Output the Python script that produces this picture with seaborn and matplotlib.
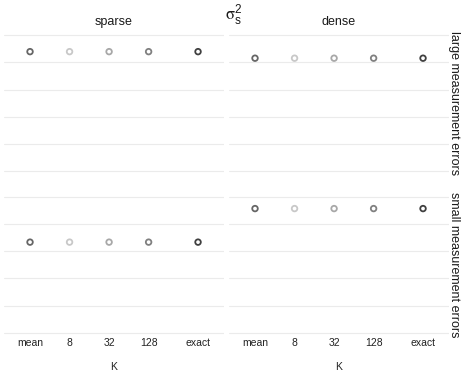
import pandas as pd
import seaborn as sns
import matplotlib.pyplot as plt

# -----------------------------
# Data
# -----------------------------

k_labels = ['mean', '8', '32', '128', 'exact']
k_pos = [1, 3, 5, 7, 9.5]          # position of each K on the axis
k_colors = ['#666666', '#c8c8c8', '#a8a8a8', '#808080', '#404040']

sigma_levels = ['sparse', 'dense']
error_levels = ['large measurement errors', 'small measurement errors']

large_sparse = [4.39, 4.39, 4.39, 4.39, 4.39]
large_dense = [4.15, 4.15, 4.15, 4.15, 4.15]
small_sparse = [3.33, 3.33, 3.33, 3.33, 3.33]
small_dense = [4.56, 4.56, 4.56, 4.56, 4.56]

grid_ticks = [0, 1, 2, 3, 4, 5]

values = {
    ('large measurement errors', 'sparse'): large_sparse,
    ('large measurement errors', 'dense'): large_dense,
    ('small measurement errors', 'sparse'): small_sparse,
    ('small measurement errors', 'dense'): small_dense,
}

rows = []
for (err, sig), vals in values.items():
    for lab, pos, v in zip(k_labels, k_pos, vals):
        rows.append({'error': err, 'sigma': sig, 'K': lab,
                     'pos': pos, 'value': v})
df = pd.DataFrame(rows)

# -----------------------------
# Plot
# -----------------------------

sns.set_style('white')
plt.rcParams['font.family'] = ['Liberation Sans', 'DejaVu Sans']
plt.rcParams['mathtext.fontset'] = 'stix'

fig, axes = plt.subplots(2, 2, figsize=(4.65, 3.78), dpi=100,
                         sharex=True, sharey=True)
fig.subplots_adjust(left=0.0093, right=0.965, top=0.9146, bottom=0.1119,
                    wspace=0.0255, hspace=0.139)

palette = dict(zip(k_labels, k_colors))

for i, err in enumerate(error_levels):
    for j, sig in enumerate(sigma_levels):
        ax = axes[i, j]
        sub = df[(df['error'] == err) & (df['sigma'] == sig)]
        sns.scatterplot(data=sub, x='pos', y='value', hue='K',
                        hue_order=k_labels, palette=palette, s=16,
                        linewidth=1.3, legend=False, ax=ax, zorder=3)
        for coll in ax.collections:
            fc = coll.get_facecolors()
            coll.set_edgecolors(fc)
            coll.set_facecolors('white')

        ax.set_xlim(k_pos[0] - 1.3, k_pos[-1] + 1.3)
        ax.set_ylim(-0.1, 5.1)
        ax.set_yticks(grid_ticks)
        ax.set_yticklabels([])
        ax.tick_params(left=False, bottom=False, length=0)
        ax.yaxis.grid(True, color='#ebebeb', linewidth=0.8)
        ax.xaxis.grid(False)
        for s in ax.spines.values():
            s.set_visible(False)
        ax.set_ylabel('')
        ax.set_xlabel('')
        ax.set_xticks(k_pos)
        ax.set_xticklabels(k_labels, fontsize=7.5, color='#222222')
        ax.tick_params(axis='x', pad=2)

        if i == 0:
            ax.set_title(sig, fontsize=9, color='#1a1a1a', pad=5)
        if j == 1:
            ax.text(1.022, 0.5, err, transform=ax.transAxes, rotation=-90,
                    ha='center', va='center', fontsize=9, color='#1a1a1a')
        if i == 1:
            ax.set_xlabel('K', fontsize=7.5, color='#222222', labelpad=10)

fig.text(0.503, 0.962, r'$\mathrm{\sigma}_\mathregular{s}^\mathregular{2}$',
         ha='center', va='center', fontsize=12, color='#1a1a1a')

plt.savefig('out.png', dpi=100)
plt.close()
